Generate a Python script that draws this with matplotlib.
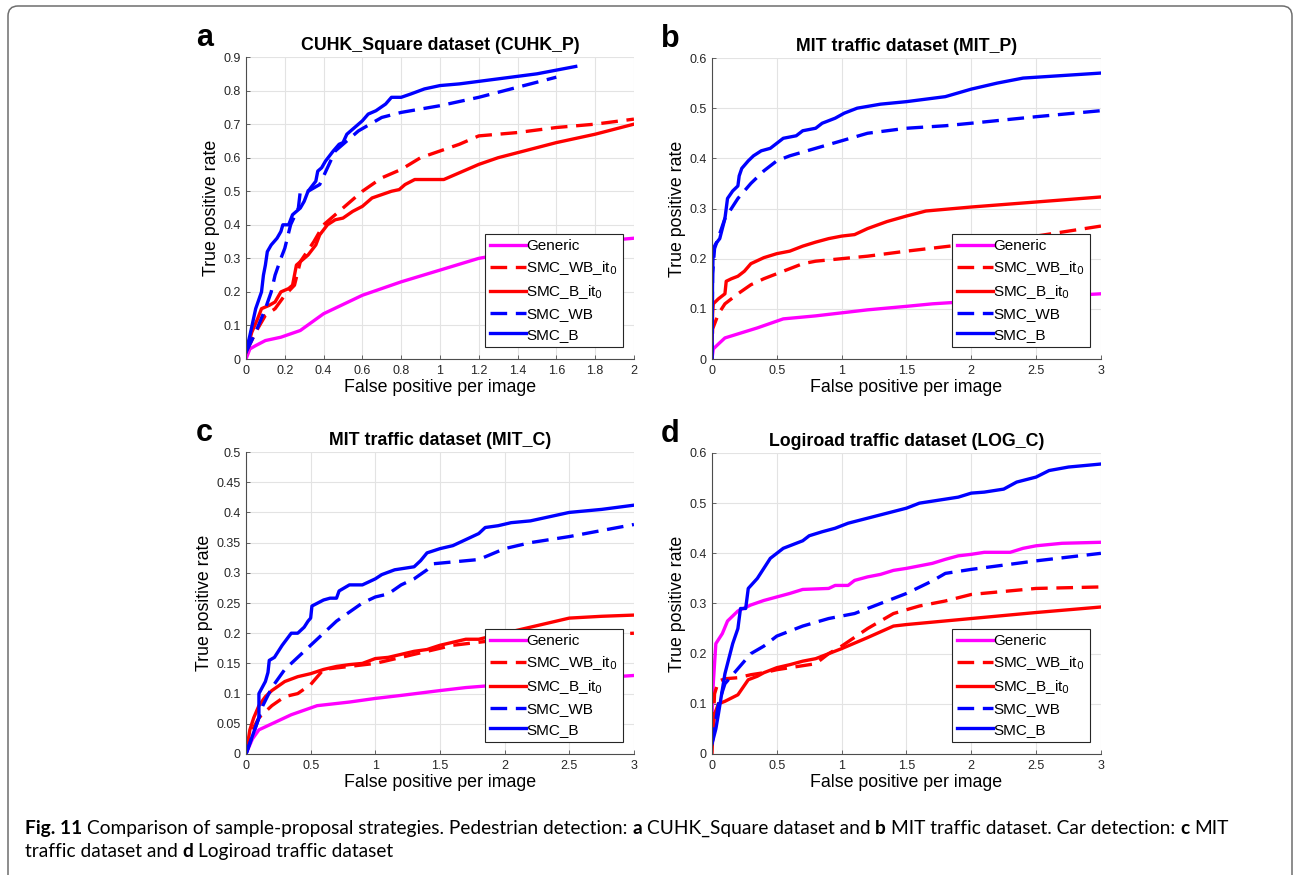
import matplotlib
matplotlib.use("Agg")
import matplotlib.pyplot as plt
from matplotlib.patches import FancyBboxPatch
from matplotlib.ticker import FuncFormatter

plt.rcParams['font.family'] = ['Liberation Sans', 'DejaVu Sans']

# ---- data: (x = false positive per image, y = true positive rate)
# panel a: CUHK_Square dataset (CUHK_P)
a_gen_x = [0, 0.02, 0.05, 0.1, 0.18, 0.28, 0.4, 0.6, 0.8, 1.0, 1.2, 1.4, 1.6, 1.8, 2.0]
a_gen_y = [0.0, 0.03, 0.04, 0.055, 0.065, 0.085, 0.135, 0.19, 0.23, 0.265, 0.3, 0.32, 0.335, 0.35, 0.36]
a_wbit_x = [0, 0.05, 0.1, 0.15, 0.2, 0.25, 0.28, 0.35, 0.4, 0.5, 0.6, 0.7, 0.8, 0.9, 1.0, 1.1, 1.2, 1.4, 1.6, 1.8, 2.0]
a_wbit_y = [0.02, 0.08, 0.13, 0.15, 0.19, 0.22, 0.29, 0.35, 0.4, 0.45, 0.5, 0.54, 0.565, 0.6, 0.62, 0.64, 0.665, 0.675, 0.69, 0.70, 0.715]
a_bit_x = [0, 0.03, 0.06, 0.08, 0.12, 0.15, 0.18, 0.22, 0.24, 0.26, 0.28, 0.32, 0.36, 0.38, 0.42, 0.46, 0.5, 0.55,
           0.6, 0.65, 0.7, 0.75, 0.79, 0.82, 0.87, 1.02, 1.1, 1.2, 1.3, 1.4, 1.6, 1.8, 2.0]
a_bit_y = [0.02, 0.08, 0.12, 0.15, 0.16, 0.17, 0.2, 0.21, 0.22, 0.28, 0.29, 0.31, 0.34, 0.37, 0.4, 0.415, 0.42, 0.44,
           0.455, 0.48, 0.49, 0.5, 0.505, 0.52, 0.535, 0.535, 0.555, 0.58, 0.6, 0.615, 0.645, 0.67, 0.70]
a_wb_x = [0, 0.05, 0.1, 0.13, 0.15, 0.18, 0.2, 0.23, 0.27, 0.28, 0.32, 0.38, 0.42, 0.46, 0.5, 0.58, 0.7, 0.8, 1.0, 1.2, 1.4, 1.6]
a_wb_y = [0.02, 0.08, 0.15, 0.2, 0.25, 0.3, 0.33, 0.4, 0.45, 0.5, 0.5, 0.52, 0.57, 0.62, 0.64, 0.68, 0.72, 0.735, 0.755, 0.78, 0.81, 0.84]
a_b_x = [0, 0.02, 0.05, 0.08, 0.09, 0.1, 0.11, 0.13, 0.16, 0.18, 0.19, 0.22, 0.24, 0.28, 0.3, 0.32, 0.36, 0.37, 0.39,
         0.41, 0.45, 0.48, 0.5, 0.52, 0.56, 0.6, 0.63, 0.67, 0.72, 0.75, 0.8, 0.85, 0.92, 1.0, 1.1, 1.3, 1.5, 1.7]
a_b_y = [0.02, 0.07, 0.15, 0.2, 0.25, 0.28, 0.32, 0.34, 0.36, 0.38, 0.4, 0.4, 0.43, 0.45, 0.47, 0.5, 0.53, 0.56, 0.57,
         0.59, 0.62, 0.64, 0.645, 0.67, 0.69, 0.71, 0.73, 0.74, 0.76, 0.78, 0.78, 0.79, 0.805, 0.815, 0.82, 0.835, 0.85, 0.872]

# panel b: MIT traffic dataset (MIT_P)
b_gen_x = [0, 0.01, 0.05, 0.1, 0.2, 0.35, 0.55, 0.8, 1.0, 1.2, 1.5, 1.7, 2.0, 2.5, 3.0]
b_gen_y = [0.0, 0.02, 0.03, 0.042, 0.05, 0.062, 0.08, 0.086, 0.092, 0.098, 0.105, 0.11, 0.115, 0.123, 0.13]
b_wbit_x = [0, 0.005, 0.05, 0.1, 0.2, 0.3, 0.4, 0.5, 0.6, 0.7, 0.8, 1.0, 1.2, 1.5, 2.0, 2.5, 3.0]
b_wbit_y = [0.0, 0.06, 0.09, 0.11, 0.13, 0.148, 0.16, 0.17, 0.18, 0.19, 0.195, 0.2, 0.205, 0.215, 0.23, 0.245, 0.265]
b_bit_x = [0, 0.005, 0.01, 0.05, 0.1, 0.11, 0.15, 0.2, 0.25, 0.3, 0.4, 0.5, 0.6, 0.7, 0.8, 0.9, 1.0, 1.1, 1.2,
           1.35, 1.5, 1.65, 2.0, 2.5, 3.0]
b_bit_y = [0.0, 0.09, 0.11, 0.12, 0.13, 0.155, 0.16, 0.165, 0.175, 0.19, 0.202, 0.21, 0.215, 0.225, 0.233, 0.24,
           0.245, 0.248, 0.26, 0.274, 0.285, 0.295, 0.303, 0.313, 0.323]
b_wb_x = [0, 0.005, 0.02, 0.06, 0.1, 0.15, 0.2, 0.3, 0.4, 0.5, 0.6, 0.8, 1.0, 1.2, 1.5, 1.8, 2.0, 2.5, 3.0]
b_wb_y = [0.0, 0.17, 0.22, 0.25, 0.28, 0.3, 0.32, 0.35, 0.375, 0.395, 0.405, 0.42, 0.435, 0.45, 0.46, 0.465, 0.47, 0.483, 0.495]
b_b_x = [0, 0.005, 0.01, 0.03, 0.06, 0.08, 0.1, 0.11, 0.12, 0.16, 0.2, 0.21, 0.23, 0.28, 0.32, 0.38, 0.45, 0.5, 0.55,
         0.65, 0.7, 0.8, 0.85, 0.95, 1.02, 1.12, 1.3, 1.5, 1.65, 1.8, 2.0, 2.2, 2.4, 2.7, 3.0]
b_b_y = [0.0, 0.17, 0.22, 0.23, 0.24, 0.26, 0.28, 0.3, 0.32, 0.335, 0.345, 0.365, 0.38, 0.395, 0.405, 0.415, 0.42,
         0.43, 0.44, 0.445, 0.455, 0.46, 0.47, 0.48, 0.49, 0.5, 0.508, 0.513, 0.518, 0.523, 0.538, 0.55, 0.56, 0.565, 0.57]

# panel c: MIT traffic dataset (MIT_C)
c_gen_x = [0, 0.05, 0.1, 0.2, 0.35, 0.55, 0.8, 1.0, 1.2, 1.5, 1.7, 2.0, 2.5, 3.0]
c_gen_y = [0.0, 0.025, 0.04, 0.05, 0.065, 0.08, 0.086, 0.092, 0.097, 0.105, 0.11, 0.115, 0.123, 0.13]
c_wbit_x = [0, 0.05, 0.1, 0.2, 0.3, 0.4, 0.5, 0.6, 0.8, 1.0, 1.2, 1.4, 1.6, 1.8, 2.0, 2.5, 3.0]
c_wbit_y = [0.0, 0.04, 0.06, 0.08, 0.095, 0.1, 0.115, 0.14, 0.145, 0.15, 0.16, 0.17, 0.18, 0.185, 0.19, 0.195, 0.2]
c_bit_x = [0, 0.03, 0.06, 0.1, 0.15, 0.2, 0.3, 0.4, 0.5, 0.6, 0.7, 0.8, 0.9, 1.0, 1.1, 1.2, 1.3, 1.4, 1.5, 1.6,
           1.7, 1.8, 2.0, 2.2, 2.4, 2.5, 2.75, 3.0]
c_bit_y = [0.0, 0.04, 0.06, 0.08, 0.095, 0.105, 0.12, 0.128, 0.133, 0.14, 0.145, 0.148, 0.15, 0.158, 0.16, 0.165,
           0.17, 0.173, 0.18, 0.185, 0.19, 0.19, 0.2, 0.21, 0.22, 0.225, 0.228, 0.23]
c_wb_x = [0, 0.05, 0.1, 0.13, 0.2, 0.3, 0.4, 0.5, 0.6, 0.7, 0.8, 0.9, 1.0, 1.1, 1.2, 1.3, 1.4, 1.45, 1.6, 1.8,
          2.0, 2.2, 2.5, 2.75, 3.0]
c_wb_y = [0.0, 0.03, 0.06, 0.08, 0.11, 0.14, 0.16, 0.18, 0.2, 0.22, 0.235, 0.25, 0.26, 0.265, 0.28, 0.29, 0.305,
          0.315, 0.318, 0.322, 0.34, 0.35, 0.36, 0.37, 0.38]
c_b_x = [0, 0.05, 0.1, 0.1, 0.15, 0.17, 0.18, 0.22, 0.28, 0.35, 0.4, 0.45, 0.48, 0.5, 0.51, 0.6, 0.65, 0.7, 0.72,
         0.8, 0.9, 1.0, 1.05, 1.15, 1.3, 1.35, 1.4, 1.5, 1.6, 1.7, 1.8, 1.85, 1.95, 2.05, 2.2, 2.35, 2.5, 2.75, 3.0]
c_b_y = [0.0, 0.03, 0.06, 0.1, 0.12, 0.135, 0.155, 0.16, 0.18, 0.2, 0.2, 0.21, 0.22, 0.225, 0.245, 0.255, 0.258,
         0.258, 0.27, 0.28, 0.28, 0.29, 0.297, 0.305, 0.31, 0.32, 0.333, 0.34, 0.345, 0.355, 0.365, 0.375, 0.378,
         0.383, 0.386, 0.393, 0.40, 0.405, 0.412]

# panel d: Logiroad traffic dataset (LOG_C)
d_gen_x = [0, 0.01, 0.03, 0.08, 0.12, 0.2, 0.3, 0.4, 0.5, 0.6, 0.7, 0.9, 0.95, 1.05, 1.1, 1.2, 1.3, 1.4, 1.5,
           1.6, 1.7, 1.8, 1.9, 2.0, 2.1, 2.3, 2.4, 2.5, 2.7, 3.0]
d_gen_y = [0.07, 0.14, 0.22, 0.24, 0.265, 0.285, 0.297, 0.306, 0.313, 0.32, 0.328, 0.33, 0.336, 0.336, 0.346,
           0.353, 0.358, 0.366, 0.37, 0.375, 0.38, 0.388, 0.395, 0.398, 0.402, 0.402, 0.41, 0.415, 0.42, 0.422]
d_wbit_x = [0, 0.02, 0.05, 0.1, 0.2, 0.3, 0.4, 0.5, 0.6, 0.8, 0.9, 1.0, 1.2, 1.4, 1.6, 1.8, 2.0, 2.5, 3.0]
d_wbit_y = [0.0, 0.12, 0.145, 0.15, 0.152, 0.158, 0.162, 0.168, 0.172, 0.18, 0.2, 0.215, 0.25, 0.28, 0.295,
            0.305, 0.318, 0.33, 0.333]
d_bit_x = [0, 0.02, 0.05, 0.1, 0.2, 0.28, 0.35, 0.4, 0.5, 0.6, 0.7, 0.8, 0.9, 1.0, 1.2, 1.4, 1.5, 2.0, 2.5, 3.0]
d_bit_y = [0.02, 0.08, 0.1, 0.105, 0.118, 0.148, 0.155, 0.162, 0.172, 0.178, 0.185, 0.19, 0.2, 0.21, 0.232,
           0.255, 0.258, 0.27, 0.282, 0.293]
d_wb_x = [0, 0.05, 0.1, 0.2, 0.3, 0.4, 0.5, 0.7, 0.9, 1.1, 1.3, 1.5, 1.7, 1.8, 2.0, 2.5, 3.0]
d_wb_y = [0.02, 0.1, 0.14, 0.17, 0.2, 0.215, 0.235, 0.255, 0.27, 0.28, 0.3, 0.32, 0.345, 0.36, 0.368, 0.385, 0.4]
d_b_x = [0, 0.03, 0.05, 0.1, 0.13, 0.16, 0.2, 0.22, 0.26, 0.28, 0.35, 0.45, 0.55, 0.6, 0.7, 0.75, 0.85, 0.95,
         1.05, 1.2, 1.35, 1.5, 1.6, 1.8, 1.9, 2.0, 2.1, 2.25, 2.35, 2.5, 2.6, 2.75, 3.0]
d_b_y = [0.02, 0.05, 0.08, 0.16, 0.19, 0.22, 0.25, 0.29, 0.29, 0.33, 0.35, 0.39, 0.41, 0.415, 0.425, 0.435,
         0.443, 0.45, 0.46, 0.47, 0.48, 0.49, 0.5, 0.508, 0.512, 0.52, 0.522, 0.528, 0.542, 0.552, 0.565, 0.572, 0.578]

labels = ['Generic', 'SMC_WB_it$_0$', 'SMC_B_it$_0$', 'SMC_WB', 'SMC_B']
colors = ['#ff00ff', '#ff0000', '#ff0000', '#0000ff', '#0000ff']
styles = ['-', '--', '-', '--', '-']

panels = [
    ('a', 'CUHK_Square dataset (CUHK_P)', [0.1901, 0.5897, 0.2998, 0.3451], 2, 0.2, 0.9, 0.1,
     [(a_gen_x, a_gen_y), (a_wbit_x, a_wbit_y), (a_bit_x, a_bit_y), (a_wb_x, a_wb_y), (a_b_x, a_b_y)]),
    ('b', 'MIT traffic dataset (MIT_P)', [0.5502, 0.5897, 0.3006, 0.3440], 3, 0.5, 0.6, 0.1,
     [(b_gen_x, b_gen_y), (b_wbit_x, b_wbit_y), (b_bit_x, b_bit_y), (b_wb_x, b_wb_y), (b_b_x, b_b_y)]),
    ('c', 'MIT traffic dataset (MIT_C)', [0.1901, 0.1383, 0.2998, 0.3451], 3, 0.5, 0.5, 0.05,
     [(c_gen_x, c_gen_y), (c_wbit_x, c_wbit_y), (c_bit_x, c_bit_y), (c_wb_x, c_wb_y), (c_b_x, c_b_y)]),
    ('d', 'Logiroad traffic dataset (LOG_C)', [0.5502, 0.1383, 0.3006, 0.3440], 3, 0.5, 0.6, 0.1,
     [(d_gen_x, d_gen_y), (d_wbit_x, d_wbit_y), (d_bit_x, d_bit_y), (d_wb_x, d_wb_y), (d_b_x, d_b_y)]),
]

fig = plt.figure(figsize=(12.94, 8.75), dpi=100)
fmt = FuncFormatter(lambda v, p: f'{v:g}')

for letter, title, pos, xmax, xstep, ymax, ystep, series in panels:
    ax = fig.add_axes(pos)
    for (xs, ys), lab, c, ls in zip(series, labels, colors, styles):
        line, = ax.plot(xs, ys, color=c, linestyle=ls, lw=2.4, label=lab)
        if ls == '--':
            line.set_dashes((5, 2.6))
    ax.set_xlim(0, xmax)
    ax.set_ylim(0, ymax)
    nx = int(round(xmax / xstep))
    ny = int(round(ymax / ystep))
    ax.set_xticks([i * xstep for i in range(nx + 1)])
    ax.set_yticks([i * ystep for i in range(ny + 1)])
    ax.xaxis.set_major_formatter(fmt)
    ax.yaxis.set_major_formatter(fmt)
    ax.grid(True, color='#e3e3e3', lw=0.8)
    ax.set_axisbelow(True)
    for s in ['top', 'right']:
        ax.spines[s].set_visible(False)
    for s in ['left', 'bottom']:
        ax.spines[s].set_color('#4d4d4d')
        ax.spines[s].set_linewidth(0.8)
    ax.tick_params(direction='in', length=3, width=0.6, colors='#4d4d4d', labelsize=9,
                   labelcolor='#262626', pad=4)
    ax.set_title(title, fontsize=12.8, fontweight='bold', pad=5)
    ax.set_xlabel('False positive per image', fontsize=12.8, labelpad=2)
    ax.set_ylabel('True positive rate', fontsize=12.8, labelpad=2)
    leg = ax.legend(loc='lower right', bbox_to_anchor=(0.972, 0.04), fontsize=11, frameon=True,
                    fancybox=False, framealpha=1, edgecolor='#262626', handlelength=2.3,
                    handletextpad=0.05, labelspacing=0.4, borderpad=0.35, borderaxespad=0)
    leg.get_frame().set_linewidth(0.8)
    fig.text(pos[0] - 0.032, pos[1] + pos[3] + 0.022, letter, fontsize=22, fontweight='bold',
             ha='center', va='center')

# outer frame with rounded top corners
frame = FancyBboxPatch((0.08, -0.5), 12.84, 8.75 - 0.06 + 0.5,
                       boxstyle='round,pad=0,rounding_size=0.1',
                       transform=fig.dpi_scale_trans, fill=False, ec='#6e6e6e', lw=1.1)
fig.patches.append(frame)

# caption with bold pieces
cap_font = ['Lato', 'DejaVu Sans']
line1 = [('Fig. 11', 'bold'), (' Comparison of sample-proposal strategies. Pedestrian detection: ', 'normal'),
         ('a', 'bold'), (' CUHK_Square dataset and ', 'normal'), ('b', 'bold'),
         (' MIT traffic dataset. Car detection: ', 'normal'), ('c', 'bold'), (' MIT', 'normal')]
line2 = [('traffic dataset and ', 'normal'), ('d', 'bold'), (' Logiroad traffic dataset', 'normal')]

renderer = fig.canvas.get_renderer()


def text_width(s, weight, size):
    t = fig.text(0, 0, s, fontsize=size, fontweight=weight, family=cap_font)
    w = t.get_window_extent(renderer).width
    t.remove()
    return w


def piece_width(s, weight, size):
    sp = text_width('x x', weight, size) - text_width('xx', weight, size)
    core = s.strip(' ')
    lead = len(s) - len(s.lstrip(' '))
    trail = len(s) - len(s.rstrip(' '))
    return lead * sp, text_width(core, weight, size), trail * sp


def line_width(pieces, size):
    return sum(sum(piece_width(s, w, size)) for s, w in pieces)


base = 13
size = base * (1232 - 25) / line_width(line1, base)


def draw_line(pieces, x0, ybase):
    x = x0
    for s, w in pieces:
        lead, core, trail = piece_width(s, w, size)
        x += lead
        fig.text(x / 1294, 1 - ybase / 875, s.strip(' '), fontsize=size, fontweight=w,
                 family=cap_font, va='baseline', ha='left')
        x += core + trail


draw_line(line1, 25, 834)
draw_line(line2, 25, 857)

fig.savefig('out.png', dpi=100)
